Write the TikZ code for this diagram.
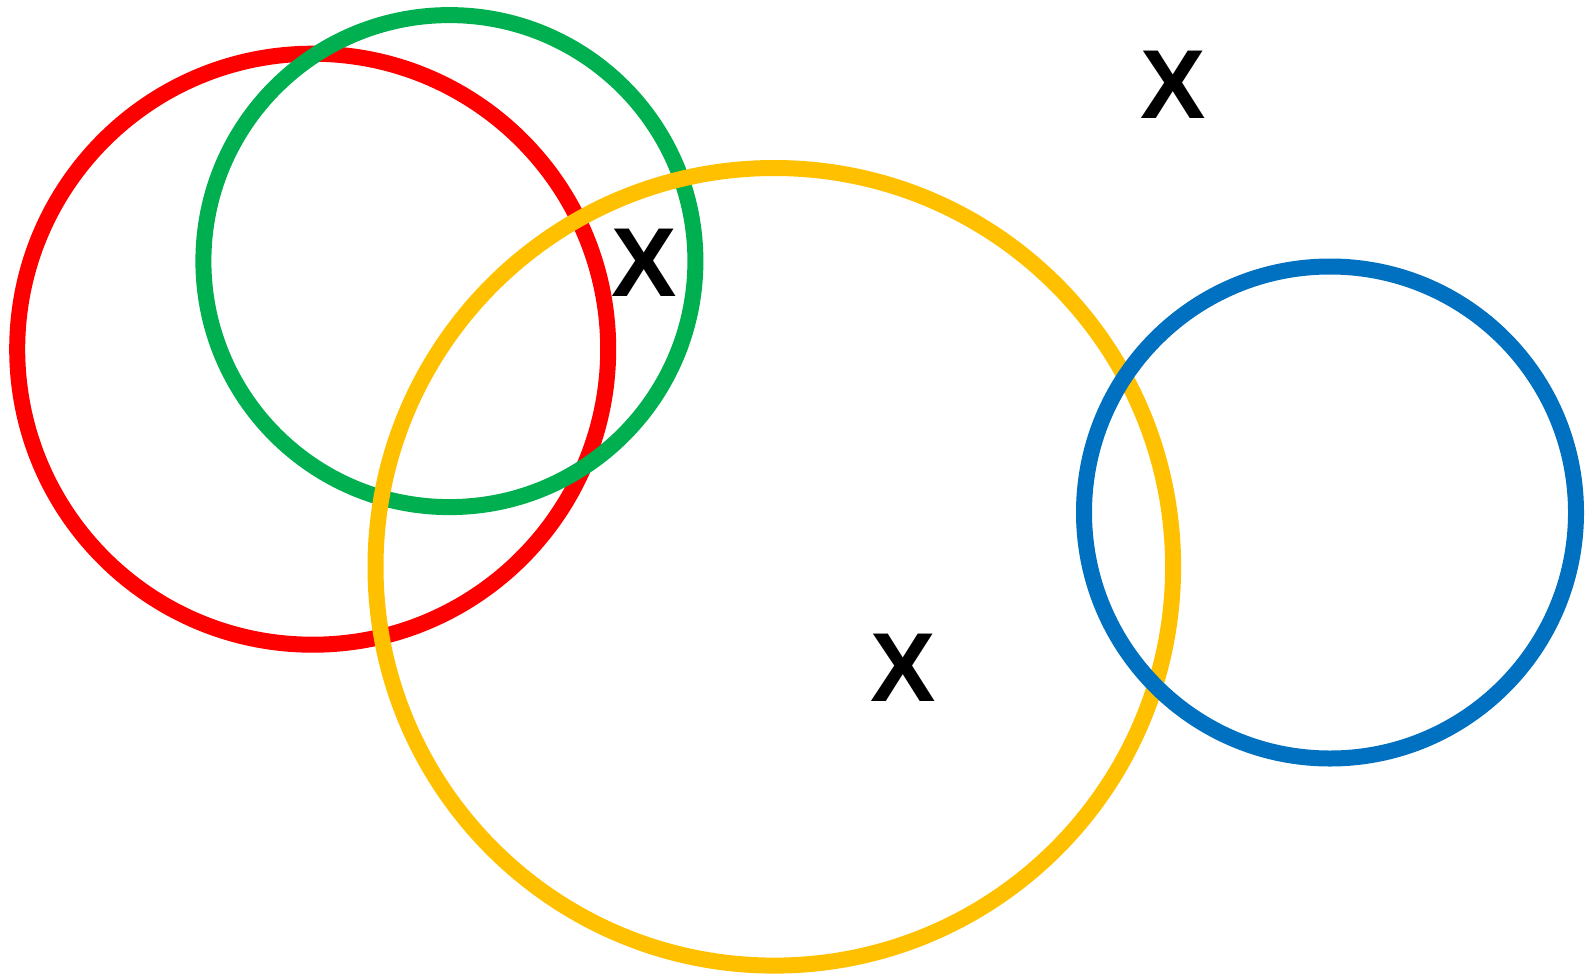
\documentclass[tikz,border=0pt]{standalone}
\usepackage{fontspec}
\setmainfont{Liberation Sans}
\definecolor{cred}{HTML}{FF0000}
\definecolor{cgreen}{HTML}{00B050}
\definecolor{cyellow}{HTML}{FFC000}
\definecolor{cblue}{HTML}{0070C0}
\tikzset{ring/.style={line width=16pt},
  mark label/.style={font=\fontsize{98}{98}\selectfont\bfseries, inner sep=0pt, anchor=center}}
\begin{document}
\begin{tikzpicture}[x=1pt,y=-1pt]
\useasboundingbox (0,0) rectangle (1587,974);
\draw[ring,cred] (312.7,349.2) circle[radius=295.5];
\draw[ring,cgreen] (449.4,261.1) circle[radius=246];
\draw[ring,cyellow] (774.3,566.8) circle[radius=398.8];
\draw[ring,cblue] (1330,512.5) circle[radius=246];
\node[mark label] (x1) at (1173,84.5) {X};
\node[mark label] (x2) at (643.7,262.5) {X};
\node[mark label] (x3) at (902.8,667.5) {X};
\end{tikzpicture}
\end{document}
